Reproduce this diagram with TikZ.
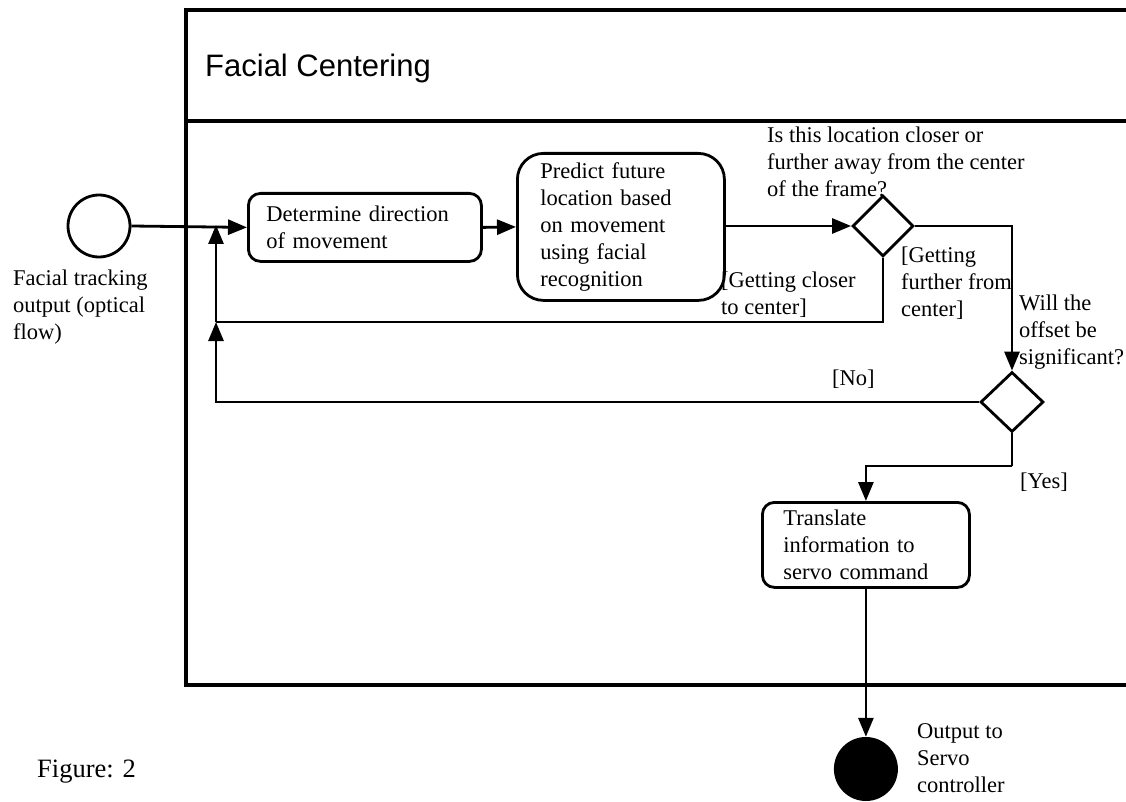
\documentclass[tikz,border=0pt]{standalone}
\usepackage{fontspec}
\setmainfont{Liberation Serif}
\newfontfamily\headfont{Liberation Sans}
\usetikzlibrary{arrows.meta,shapes.geometric}

\tikzset{
  txt/.style={font=\fontsize{22.5}{27}\selectfont, inner sep=0pt, align=left},
  % multi-line labels are placed by the baseline of their last line
  lbl/.style={txt, anchor=base west},
  act/.style={draw, line width=2.8pt, rounded corners=12pt, txt,
              anchor=north west, align=left},
  decision/.style={draw, diamond, line width=2.8pt, inner sep=0pt, aspect=1},
  flow/.style={line width=2.8pt},
  arr/.style={flow, -{Triangle[length=19pt,width=15pt]}},
  frameline/.style={line width=3.4pt, line cap=rect}
}

\begin{document}
\begin{tikzpicture}[x=1pt, y=-1pt]
\useasboundingbox (0,0) rectangle (1126,802);

% swimlane frame with its title compartment
\draw[frameline] (1140,10) -- (186,10) -- (186,685) -- (1140,685);
\draw[frameline] (186,121) -- (1140,121);
\node[anchor=base west, inner sep=0pt, font=\headfont\fontsize{31}{36}\selectfont]
  (title) at (205,77) {Facial Centering};

% initial node
\node[draw, circle, line width=2.8pt, minimum size=62pt, inner sep=0pt] (start) at (99,226) {};

% actions
\node[act, text width=197pt, inner xsep=18pt, minimum height=68pt] (act1) at (247,192)
  {Determine direction\\of movement};
\node[act, rounded corners=26pt, text width=161pt, inner xsep=23pt, minimum height=147pt] (act2) at (516,152)
  {Predict future\\location based\\on movement\\using facial\\recognition};
\node[act, text width=165pt, inner xsep=21pt, minimum height=85pt] (act3) at (761,501)
  {Translate\\information to\\servo command};

% final node, straight below the last action
\node[fill=black, circle, minimum size=64pt, inner sep=0pt] (final) at (act3.south |- 0,769) {};

% decisions
\node[decision, minimum width=61pt, minimum height=61pt] (dec1) at (883,226) {};
\node[decision, minimum width=63pt, minimum height=60pt] (dec2) at (1012,402) {};

% routing points
\coordinate (join1) at (216,226);
\coordinate (join2) at (216,322);
\coordinate (bend) at (1012,466);

% flows
\draw[arr] (start.east) -- (act1.west);
\draw[arr] (act1.east) -- (act2.west);
\draw[arr] (act2.east |- dec1.west) -- (dec1.west);
\draw[arr] (dec1.east) -| (dec2.north);
\draw[flow] (dec1.south) |- (join2);
\draw[arr] (dec2.west) -| (join2);
\draw[arr, shorten >=-1pt] (join2) -- (join1);
\draw[flow] (dec2.south) -- (bend);
\draw[arr] (bend) -| (act3.north);
\draw[arr] (act3.south) -- (final.north);

% labels
\node[lbl] (startlbl) at (13,339) {Facial tracking\\output (optical\\flow)};
\node[lbl] (q1) at (767,197) {Is this location closer or\\further away from the center\\of the frame?};
\node[lbl] (closer) at (721,314) {[Getting closer\\to center]};
\node[lbl] (further) at (901,316) {[Getting\\further from\\center]};
\node[lbl] (q2) at (1019,364) {Will the\\offset be\\significant?};
\node[lbl] (no) at (832,385) {[No]};
\node[lbl] (yes) at (1020,488) {[Yes]};
\node[lbl] (endlbl) at (917,792) {Output to\\Servo\\controller};
\node[lbl, font=\fontsize{26.5}{30}\selectfont] (fig) at (37,777) {Figure: 2};
\end{tikzpicture}
\end{document}
